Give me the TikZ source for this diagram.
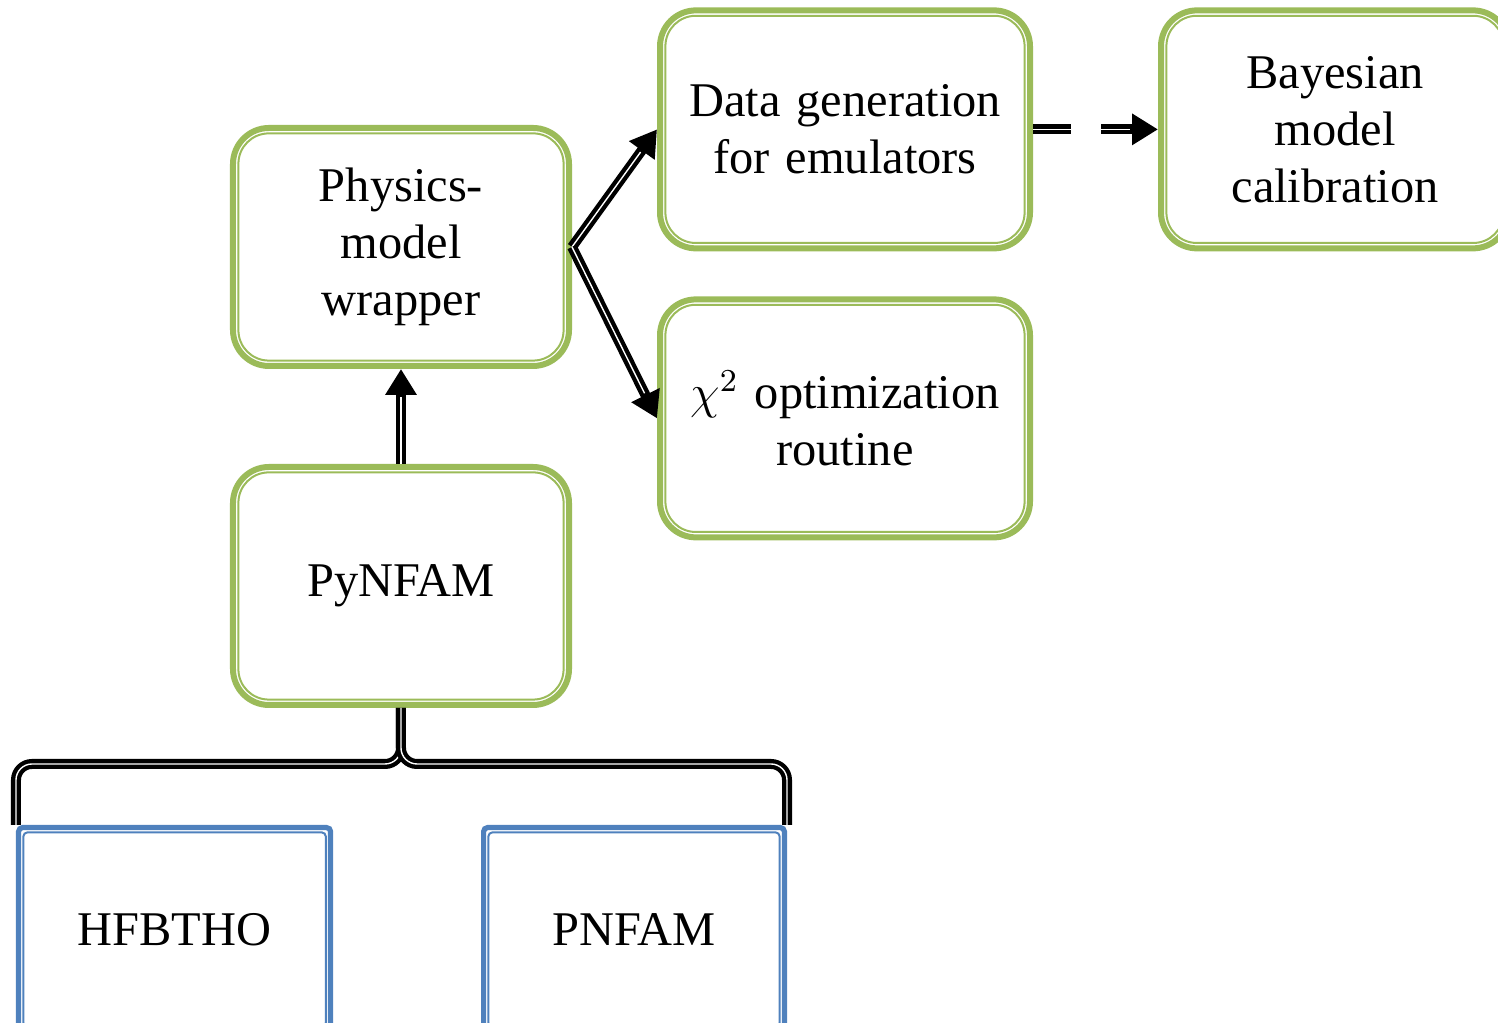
\documentclass[tikz,border=0pt]{standalone}
\usepackage{fontspec}
\setmainfont{Liberation Serif}
\usetikzlibrary{positioning,arrows.meta}

\definecolor{boxgreen}{RGB}{155,187,89}
\definecolor{boxblue}{RGB}{79,129,189}

\begin{document}
\begin{tikzpicture}[%
	main node/.style={
		rectangle,
		rounded corners=9pt,
		draw=boxgreen,
		line width=1.5pt,
		minimum width=84pt,
		minimum height=59.5pt,
		inner sep=0pt,
		text width=80pt,
		align=center,
		font=\fontsize{12.1}{14.25}\selectfont,
		path picture={
			\draw[boxgreen,line width=0.5pt,rounded corners=7.6pt]
			([shift={(1.35pt,1.35pt)}]path picture bounding box.south west) rectangle
			([shift={(-1.35pt,-1.35pt)}]path picture bounding box.north east);
		}
	},
	wide node/.style={
		main node,
		minimum width=92.5pt,
		text width=88pt
	},
	code node/.style={
		rectangle,
		rounded corners=1pt,
		draw=boxblue,
		line width=1.3pt,
		minimum height=51pt,
		inner sep=0pt,
		align=center,
		font=\fontsize{12.1}{14.25}\selectfont,
		path picture={
			\draw[boxblue,line width=0.5pt]
			([shift={(1.2pt,1.2pt)}]path picture bounding box.south west) rectangle
			([shift={(-1.2pt,-1.2pt)}]path picture bounding box.north east);
		}
	},
	link line/.style={
		draw=black,
		line width=2.5pt,
		postaction={draw=white,line width=0.35pt}
	},
	arrow line/.style={
		draw=black,
		line width=2.5pt,
		-{Triangle[length=6.5pt,width=7.5pt]},
		postaction={draw=white,line width=0.35pt,-,shorten >=7pt}
	},
]
	\useasboundingbox (-100.25pt,61.75pt) rectangle (274.25pt,-194pt);

	\node[main node] (phys) at (0,0) {Physics-\\model\\wrapper};
	\node[main node] (pynfam) [below = 23.75pt of phys] {PyNFAM};
	\node[wide node] (data) [right = 21.25pt of phys, yshift=29.4pt] {Data generation\\for emulators};
	\node[wide node] (chi) [below = 11.25pt of data] {$\chi^2$ optimization\\routine};
	\node[main node, minimum width=87pt] (bayes) [right = 31.25pt of data] {Bayesian\\model\\calibration};
	\node[code node, minimum width=78pt] (hfb) [below = 29.25pt of pynfam, xshift=-56.6pt] {HFBTHO};
	\node[code node, minimum width=75.2pt] (pnfam) [below = 29.25pt of pynfam, xshift=58.25pt] {PNFAM};

	\draw[arrow line] (pynfam.north) -- (phys.south);
	\draw[arrow line] (phys.east) -- (data.west);
	\draw[arrow line] (phys.east) -- (chi.west);
	\draw[arrow line,dash pattern=on 9.5pt off 7.5pt] (data.east) -- (data.east -| bayes.west);
	\draw[link line,rounded corners=4pt] (pynfam.south) -- ++(0,-14pt) -| (hfb.north west);
	\draw[link line,rounded corners=4pt] (pynfam.south) -- ++(0,-14pt) -| (pnfam.north east);
\end{tikzpicture}
\end{document}
